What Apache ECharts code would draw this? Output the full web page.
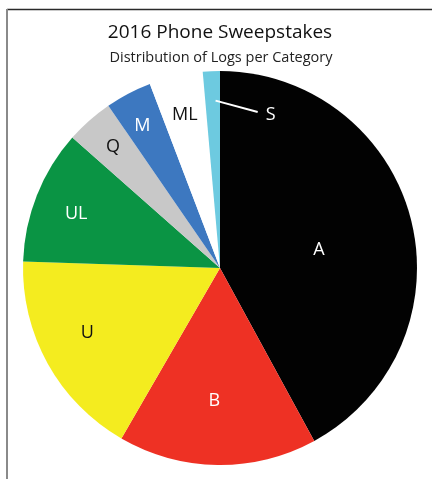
<!DOCTYPE html>
<html>
<head>
<meta charset="utf-8">
<script src="https://cdn.jsdelivr.net/npm/echarts@6/dist/echarts.min.js"></script>
<style>
  html, body { margin: 0; padding: 0; background: #ffffff; }
  #chart { width: 432px; height: 479px; }
</style>
</head>
<body>
<div id="chart"></div>
<script>
// ---- Data (percent of logs) ----
const categories = ['A', 'B', 'U', 'UL', 'Q', 'M', 'ML', 'S'];
const values = [42.1, 16.3, 17.2, 11.0, 3.9, 3.8, 4.4, 1.4];
const titleText = '2016 Phone Sweepstakes';
const subtitleText = 'Distribution of Logs per Category';

// ---- Styles ----
const sliceColors = ['#020202', '#EE3124', '#F4EC1F', '#0A9444', '#C8C8C8', '#3D78C0', '#FFFFFF', '#6DCAE0'];
const labelColors = ['#ffffff', '#ffffff', '#111111', '#ffffff', '#111111', '#ffffff', '#111111', '#ffffff'];
// radial fraction and angle shift (deg) of each label inside the pie
const labelRadius = [0.51, 0.675, 0.75, 0.78, 0.82, 0.82, 0.795, 0.82];
const labelShift = [4, 1.7, 3, -1, 0, -1, 0, 20.8];
const CX = 220, CY = 268, R = 197;
const FONT = '"Open Sans", "Noto Sans", sans-serif';

const total = values.reduce((a, b) => a + b, 0);
function midAngle(i) {
  let s = 0;
  for (let k = 0; k < i; k++) s += values[k];
  return (s + values[i] / 2) / total * 360;
}
function polar(angDeg, r) {
  const a = angDeg * Math.PI / 180;
  return [CX + r * Math.sin(a), CY - r * Math.cos(a)];
}

// leader line of the small "S" slice, derived from that slice's angle
const sIdx = categories.indexOf('S');
const sMid = midAngle(sIdx);
const sStart = polar(sMid + 1, 0.85 * R);
const sEnd = polar(sMid + 16.1, 0.815 * R);

const chart = echarts.init(document.getElementById('chart'), null, { renderer: 'canvas' });

const data = categories.map((c, i) => ({
  name: c,
  value: values[i],
  itemStyle: { color: sliceColors[i] },
  label: { show: true, position: 'inside', color: labelColors[i] },
  labelLine: { show: false }
}));

chart.setOption({
  animation: false,
  backgroundColor: '#ffffff',
  series: [{
    type: 'pie',
    center: [CX, CY],
    radius: [0, R],
    startAngle: 90,
    clockwise: true,
    avoidLabelOverlap: false,
    emphasis: { disabled: true },
    label: {
      fontFamily: FONT,
      fontSize: 18,
      formatter: '{b}'
    },
    itemStyle: { borderWidth: 0 },
    labelLayout: function (p) {
      const i = p.dataIndex;
      const pos = polar(midAngle(i) + labelShift[i], labelRadius[i] * R);
      return { x: pos[0], y: pos[1], align: 'center', verticalAlign: 'middle' };
    },
    data: data
  }],
  graphic: [
    { type: 'line', z: 100, shape: { x1: 7, y1: 9.5, x2: 432, y2: 9.5 }, style: { stroke: '#2a2a2a', lineWidth: 1.5 }, silent: true },
    { type: 'line', z: 100, shape: { x1: 7, y1: 9, x2: 7, y2: 479 }, style: { stroke: '#8a8a8a', lineWidth: 2 }, silent: true },
    { type: 'text', z: 100, x: 220, y: 33, style: { text: titleText, font: '19px ' + FONT, fill: '#111111', align: 'center', verticalAlign: 'middle' }, silent: true },
    { type: 'text', z: 100, x: 221, y: 58, style: { text: subtitleText, font: '14.5px ' + FONT, fill: '#222222', align: 'center', verticalAlign: 'middle' }, silent: true },
    { type: 'line', z: 100, shape: { x1: sStart[0], y1: sStart[1], x2: sEnd[0], y2: sEnd[1] }, style: { stroke: '#ffffff', lineWidth: 2 }, silent: true }
  ]
});
</script>
</body>
</html>
